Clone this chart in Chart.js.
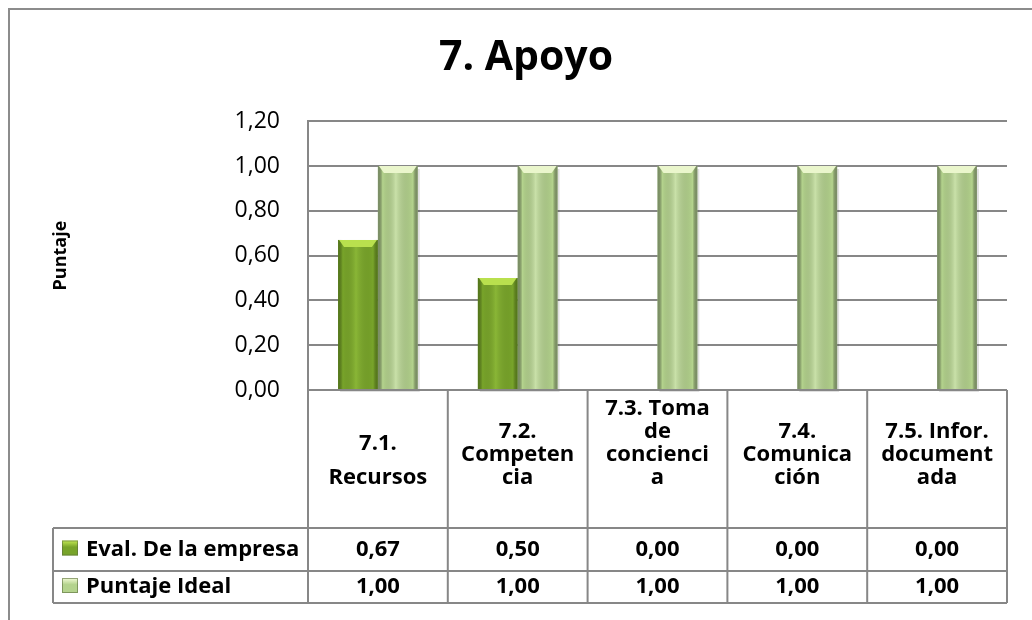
<!DOCTYPE html>
<html>
<head>
<meta charset="utf-8">
<script src="https://cdn.jsdelivr.net/npm/chart.js@4/dist/chart.umd.min.js"></script>
<style>
  html, body { margin: 0; padding: 0; background: #fff; }
  #wrap { width: 1032px; height: 620px; position: relative; }
</style>
</head>
<body>
<div id="wrap"><canvas id="graph1" width="1032" height="620"></canvas></div>
<script>
// data
var categories = [
  ['7.1.', 'Recursos'],
  ['7.2.', 'Competen', 'cia'],
  ['7.3. Toma', 'de', 'concienci', 'a'],
  ['7.4.', 'Comunica', 'ción'],
  ['7.5. Infor.', 'document', 'ada']
];
var evalEmpresa = [0.67, 0.50, 0.00, 0.00, 0.00];
var puntajeIdeal = [1.00, 1.00, 1.00, 1.00, 1.00];
var seriesNames = ['Eval. De la empresa', 'Puntaje Ideal'];
var yTicks = [0, 0.2, 0.4, 0.6, 0.8, 1.0, 1.2];

var FONT = '"Open Sans", "Liberation Sans", sans-serif';
var GRID = '#878787';

function fmt(v) {
  return v.toFixed(2).replace('.', ',');
}

// bar styling: base colours + shading per series
var barStyles = [
  { fill: '#78a42a', edge: 'rgba(60,90,15,0.6)', top: '#b9e04e', light: 'rgba(190,235,90,0.25)' },
  { fill: '#b4d38d', edge: 'rgba(115,130,100,0.8)', top: '#eaf6cc', light: 'rgba(240,250,220,0.35)' }
];

// outer frame (left and top only are visible in the reference)
var framePlugin = {
  id: 'frame',
  beforeDraw: function(chart) {
    var ctx = chart.ctx;
    ctx.save();
    ctx.fillStyle = '#fff';
    ctx.fillRect(0, 0, chart.width, chart.height);
    ctx.strokeStyle = '#8c8c8c';
    ctx.lineWidth = 2;
    ctx.beginPath();
    ctx.moveTo(9, chart.height);
    ctx.lineTo(9, 9);
    ctx.lineTo(chart.width, 9);
    ctx.stroke();
    ctx.restore();
  }
};

// bevel / shading on each bar, positioned from the bar elements
var bevelPlugin = {
  id: 'bevel',
  beforeDatasetsDraw: function(chart) {
    // soft shadow under the bars
    var ctx = chart.ctx;
    chart.data.datasets.forEach(function(ds, di) {
      chart.getDatasetMeta(di).data.forEach(function(bar) {
        var p = bar.getProps(['x', 'y', 'base', 'width'], true);
        if (p.base - p.y < 1) return;
        ctx.save();
        ctx.fillStyle = 'rgba(0,0,0,0.12)';
        ctx.fillRect(p.x - p.width / 2 + 2, p.y + 3, p.width, p.base - p.y);
        ctx.restore();
      });
    });
  },
  afterDatasetsDraw: function(chart) {
    var ctx = chart.ctx;
    chart.data.datasets.forEach(function(ds, di) {
      var st = barStyles[di];
      chart.getDatasetMeta(di).data.forEach(function(bar) {
        var p = bar.getProps(['x', 'y', 'base', 'width'], true);
        var h = p.base - p.y;
        if (h < 1) return;
        var l = p.x - p.width / 2, r = p.x + p.width / 2;
        ctx.save();
        var g = ctx.createLinearGradient(l, 0, r, 0);
        g.addColorStop(0, st.edge);
        g.addColorStop(0.12, 'rgba(0,0,0,0)');
        g.addColorStop(0.45, st.light);
        g.addColorStop(0.88, 'rgba(0,0,0,0)');
        g.addColorStop(1, st.edge);
        ctx.fillStyle = g;
        ctx.fillRect(l, p.y, p.width, h);
        // top bevel
        var bv = Math.min(7, h / 2);
        ctx.fillStyle = st.top;
        ctx.beginPath();
        ctx.moveTo(l + 1, p.y);
        ctx.lineTo(r - 1, p.y);
        ctx.lineTo(r - 6, p.y + bv);
        ctx.lineTo(l + 6, p.y + bv);
        ctx.closePath();
        ctx.fill();
        ctx.restore();
      });
    });
  }
};

// data table under the plot, columns taken from the x scale
var tablePlugin = {
  id: 'dataTable',
  afterDraw: function(chart) {
    var ctx = chart.ctx;
    var area = chart.chartArea;
    var xs = chart.scales.x;
    var n = categories.length;
    var colW = (area.right - area.left) / n;
    var top = area.bottom;
    var headBottom = 528;
    var rowBottoms = [571, 603];
    var labelLeft = 53;

    ctx.save();
    ctx.strokeStyle = GRID;
    ctx.lineWidth = 2;
    ctx.beginPath();
    ctx.moveTo(area.left, top);
    ctx.lineTo(area.right, top);
    for (var i = 0; i <= n; i++) {
      var x = area.left + i * colW;
      ctx.moveTo(x, top);
      ctx.lineTo(x, rowBottoms[1]);
    }
    ctx.moveTo(labelLeft, headBottom);
    ctx.lineTo(area.right, headBottom);
    ctx.moveTo(labelLeft, rowBottoms[0]);
    ctx.lineTo(area.right, rowBottoms[0]);
    ctx.moveTo(labelLeft, rowBottoms[1]);
    ctx.lineTo(area.right, rowBottoms[1]);
    ctx.moveTo(labelLeft, headBottom);
    ctx.lineTo(labelLeft, rowBottoms[1]);
    ctx.stroke();

    ctx.fillStyle = '#000';
    ctx.font = 'bold 22px ' + FONT;
    ctx.textAlign = 'center';
    ctx.textBaseline = 'middle';
    categories.forEach(function(lines, i) {
      var cx = xs.getPixelForValue(i);
      var lh = lines.length === 2 ? 34 : 23;
      var lastY = 478;
      lines.forEach(function(t, k) {
        ctx.fillText(t, cx, lastY - (lines.length - 1 - k) * lh);
      });
    });

    var rows = [evalEmpresa, puntajeIdeal];
    var rowTops = [headBottom, rowBottoms[0]];
    rows.forEach(function(vals, r) {
      var cy = (rowTops[r] + rowBottoms[r]) / 2;
      ctx.textAlign = 'center';
      vals.forEach(function(v, i) {
        ctx.fillText(fmt(v), xs.getPixelForValue(i), cy);
      });
      // legend key
      var st = barStyles[r];
      var kg = ctx.createLinearGradient(0, cy - 8, 0, cy + 8);
      kg.addColorStop(0, st.top);
      kg.addColorStop(0.35, st.fill);
      kg.addColorStop(1, st.fill);
      ctx.fillStyle = kg;
      ctx.fillRect(62, cy - 9, 16, 15);
      ctx.strokeStyle = 'rgba(90,110,60,0.6)';
      ctx.lineWidth = 1;
      ctx.strokeRect(62.5, cy - 8.5, 15, 14);
      ctx.fillStyle = '#000';
      ctx.textAlign = 'left';
      ctx.fillText(seriesNames[r], 86, cy);
    });
    ctx.restore();
  }
};

var ctx = document.getElementById('graph1').getContext('2d');
var chart = new Chart(ctx, {
  type: 'bar',
  data: {
    labels: categories,
    datasets: [{
      label: seriesNames[0],
      data: evalEmpresa,
      backgroundColor: barStyles[0].fill,
      categoryPercentage: 0.57,
      barPercentage: 1.0
    }, {
      label: seriesNames[1],
      data: puntajeIdeal,
      backgroundColor: barStyles[1].fill,
      categoryPercentage: 0.57,
      barPercentage: 1.0
    }]
  },
  options: {
    responsive: false,
    animation: false,
    layout: { padding: { left: 45, right: 25, top: 10, bottom: 230 } },
    plugins: {
      legend: { display: false },
      tooltip: { enabled: false },
      title: {
        display: true,
        text: '7. Apoyo',
        color: '#000',
        font: { family: FONT, size: 41, weight: 'bold', lineHeight: 1.2 },
        padding: { top: 24, bottom: 38 }
      }
    },
    scales: {
      x: { display: false },
      y: {
        min: 0,
        max: 1.2,
        afterFit: function(scale) { scale.width = 263; },
        afterBuildTicks: function(scale) {
          scale.ticks = yTicks.map(function(v) { return { value: v }; });
        },
        ticks: {
          color: '#000',
          padding: 28,
          font: { family: FONT, size: 23 },
          callback: function(v) { return fmt(v); }
        },
        grid: { color: GRID, lineWidth: 2, drawTicks: false },
        border: { display: true, color: GRID, width: 2 },
        title: {
          display: true,
          text: 'Puntaje',
          color: '#000',
          font: { family: FONT, size: 18, weight: 'bold' },
          padding: { top: 5, bottom: 0 }
        }
      }
    }
  },
  plugins: [framePlugin, bevelPlugin, tablePlugin]
});
</script>
</body>
</html>
